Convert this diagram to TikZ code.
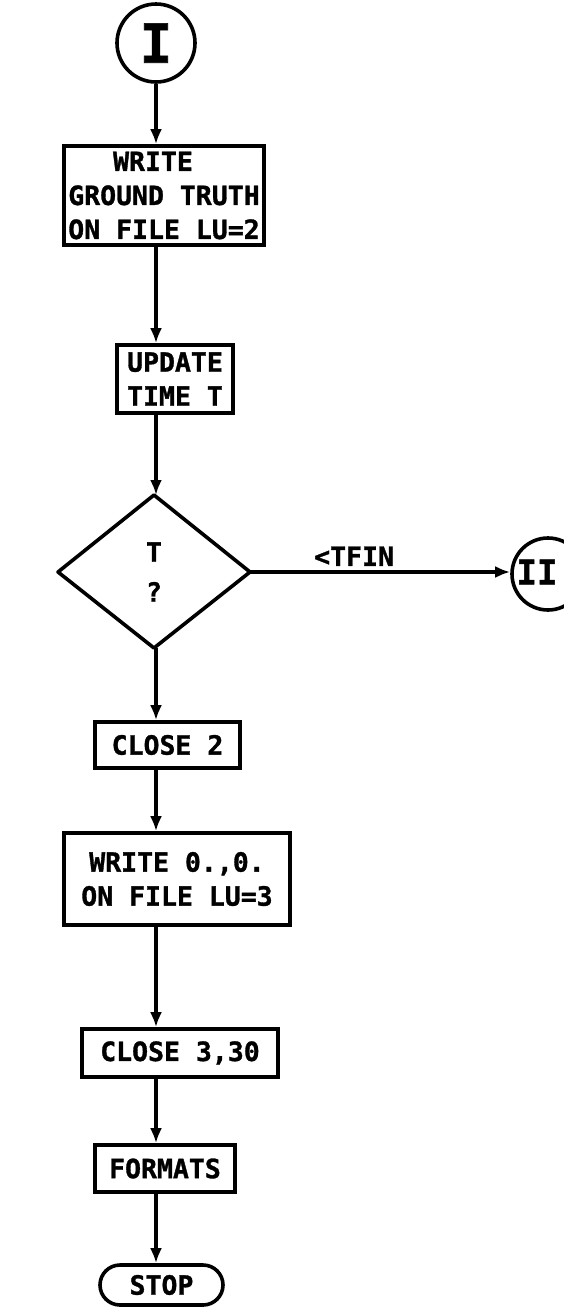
\documentclass[tikz,border=0pt]{standalone}
\usepackage{fontspec}
\setmainfont{DejaVu Sans Mono}[BoldFeatures={FakeBold=1.2}]
\usetikzlibrary{shapes.geometric,shapes.misc,arrows.meta}
\begin{document}
\begin{tikzpicture}[x=1pt,y=-1pt,
  every node/.style={font=\bfseries\fontsize{26.5}{34}\selectfont},
  proc/.style={draw,line width=3.6pt,rectangle,inner sep=0pt,align=center},
  conn/.style={draw,line width=3.6pt,circle,inner sep=0pt},
  term/.style={draw,line width=3.6pt,rounded rectangle,inner sep=0pt},
  flow/.style={line width=3.6pt,-{Latex[length=15pt,width=12pt]}}
]
\useasboundingbox (0,0) rectangle (563,1307);
\coordinate (sp) at (156,0);
\node[conn,minimum size=78pt,font=\bfseries\fontsize{54}{54}\selectfont] (c1) at (156,43) {I};
\node[proc,minimum width=200pt,minimum height=99pt] (b1) at (164,195.5) {WRITE\hspace*{22pt}\\GROUND TRUTH\\ON FILE LU=2};
\node[proc,minimum width=116pt,minimum height=68pt,align=left] (b2) at (175,379) {UPDATE\\TIME T};
\path[draw,line width=3.6pt,line join=round] (154,495) coordinate (dt) -- (250,572) coordinate (dr) -- (154,648) coordinate (db) -- (58,572) coordinate (dl) -- cycle;
\node[align=center,font=\bfseries\fontsize{26.5}{40}\selectfont] (d) at (154,572) {T\\?};
\node[conn,minimum size=72pt] (c2) at (548,574) {};
\node[font=\bfseries\fontsize{34}{34}\selectfont] (c2t) at (537,572) {II};
\node[proc,minimum width=145pt,minimum height=46pt] (b3) at (167.5,745) {CLOSE 2};
\node[proc,minimum width=226pt,minimum height=92pt] (b4) at (177,879) {WRITE 0.,0.\\ON FILE LU=3};
\node[proc,minimum width=196pt,minimum height=48pt] (b5) at (180,1053) {CLOSE 3,30};
\node[proc,minimum width=140pt,minimum height=47pt] (b6) at (165,1168.5) {FORMATS};
\node[term,minimum width=123pt,minimum height=40pt] (b7) at (161.5,1285) {STOP};
\draw[flow] (c1.south) -- (b1.north -| sp);
\draw[flow] (b1.south -| sp) -- (b2.north -| sp);
\draw[flow] (b2.south -| sp) -- (dt -| sp);
\draw[flow] (db -| sp) -- (b3.north -| sp);
\draw[flow] (b3.south -| sp) -- (b4.north -| sp);
\draw[flow] (b4.south -| sp) -- (b5.north -| sp);
\draw[flow] (b5.south -| sp) -- (b6.north -| sp);
\draw[flow] (b6.south -| sp) -- (b7.north -| sp);
\draw[flow] (dr) -- node[above=1pt,pos=0.4] (lbl) {<TFIN} (c2.west |- dr);
\end{tikzpicture}
\end{document}
